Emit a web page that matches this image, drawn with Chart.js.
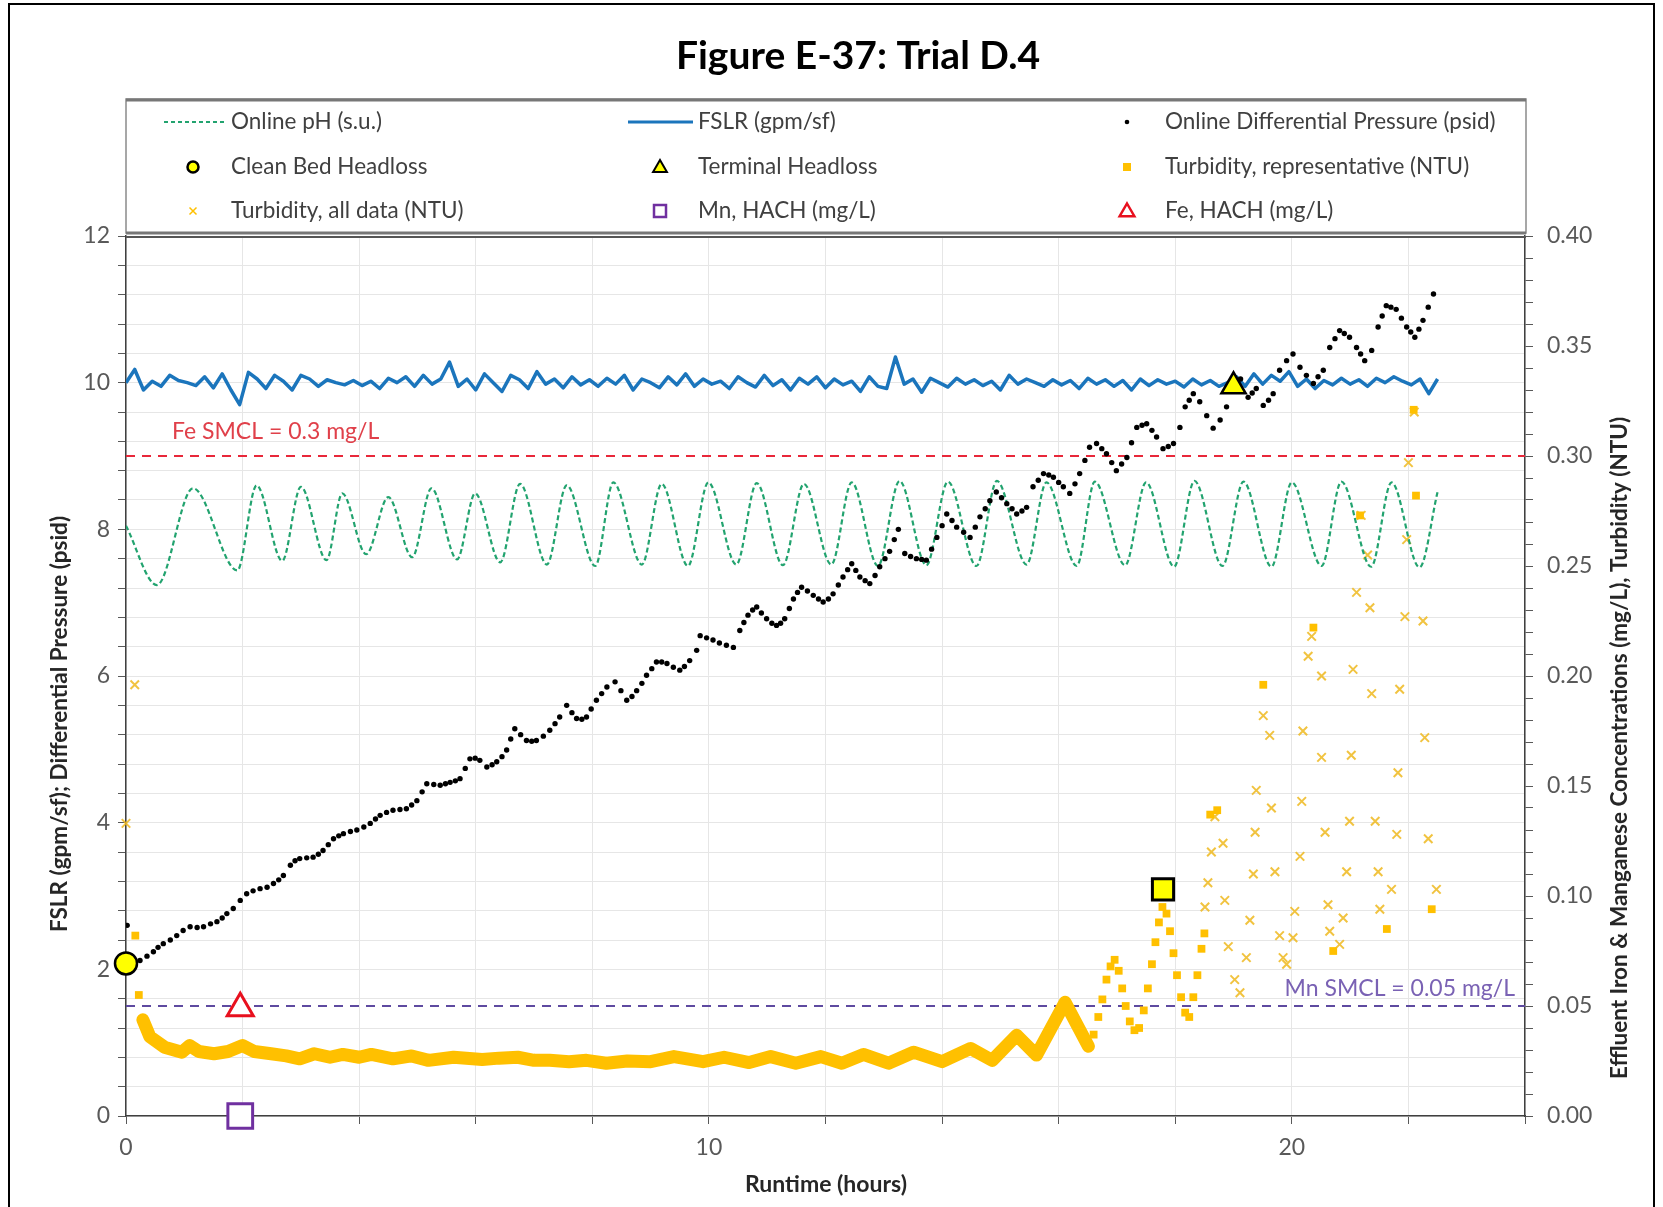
<!DOCTYPE html>
<html>
<head>
<meta charset="utf-8">
<title>Figure E-37: Trial D.4</title>
<script src="https://cdn.jsdelivr.net/npm/chart.js"></script>
<style>
  html, body { margin: 0; padding: 0; background: #fff; }
  #myChart { display: block; }
</style>
</head>
<body>
<canvas id="myChart" width="1663" height="1207"></canvas>
<script>
// values (runtime in hours)
var chartTitle = 'Figure E-37: Trial D.4';
var xTickLabels = [0, 10, 20];
var leftTickLabels = [0, 2, 4, 6, 8, 10, 12];
var rightTickLabels = ['0.00', '0.05', '0.10', '0.15', '0.20', '0.25', '0.30', '0.35', '0.40'];

var feSmcl = 0.3;   // mg/L, right axis
var mnSmcl = 0.05;  // mg/L, right axis

// online pH (s.u.), peaks and troughs of the trace
var phTime = [0, 0.53, 1.15, 1.91, 2.24, 2.68, 3.00, 3.44, 3.71, 4.12,
  4.50, 4.91, 5.24, 5.68, 5.99, 6.42, 6.76, 7.22, 7.56, 8.05,
  8.36, 8.85, 9.19, 9.64, 9.99, 10.47, 10.82, 11.27, 11.63, 12.10,
  12.45, 12.90, 13.27, 13.73, 14.10, 14.59, 14.94, 15.45, 15.79, 16.31,
  16.62, 17.14, 17.50, 17.98, 18.33, 18.81, 19.17, 19.65, 20.00, 20.51,
  20.85, 21.36, 21.71, 22.19, 22.50];
var phValue = [8.05, 7.24, 8.56, 7.44, 8.60, 7.57, 8.58, 7.58, 8.49, 7.66,
  8.44, 7.62, 8.56, 7.59, 8.49, 7.55, 8.62, 7.52, 8.60, 7.50,
  8.64, 7.52, 8.62, 7.50, 8.64, 7.52, 8.63, 7.51, 8.62, 7.52,
  8.64, 7.50, 8.66, 7.51, 8.65, 7.50, 8.66, 7.52, 8.64, 7.50,
  8.65, 7.51, 8.64, 7.49, 8.66, 7.50, 8.65, 7.49, 8.64, 7.50,
  8.65, 7.49, 8.64, 7.48, 8.51];

// FSLR (gpm/sf), one reading every 0.15 h
var fslrStep = 0.15;
var fslrValue = [
  10.00, 10.18, 9.90, 10.02, 9.95, 10.10, 10.03, 10.00, 9.96, 10.08,
  9.93, 10.12, 9.90, 9.70, 10.14, 10.05, 9.92, 10.10, 10.02, 9.90,
  10.10, 10.05, 9.95, 10.04, 10.00, 9.97, 10.03, 9.96, 10.02, 9.92,
  10.06, 10.00, 10.08, 9.95, 10.10, 9.98, 10.05, 10.28, 9.95, 10.05,
  9.90, 10.12, 10.00, 9.88, 10.10, 10.04, 9.92, 10.15, 9.98, 10.05,
  9.93, 10.08, 9.97, 10.04, 9.95, 10.06, 9.98, 10.10, 9.90, 10.05,
  10.00, 9.93, 10.08, 9.97, 10.12, 9.95, 10.05, 9.98, 10.02, 9.92,
  10.08, 10.00, 9.94, 10.10, 9.96, 10.04, 9.90, 10.06, 9.98, 10.08,
  9.93, 10.05, 9.97, 10.02, 9.88, 10.08, 9.95, 9.92, 10.35, 9.98,
  10.05, 9.87, 10.06, 10.00, 9.94, 10.06, 9.98, 10.04, 9.96, 10.02,
  9.90, 10.10, 9.98, 10.05, 10.00, 9.95, 10.04, 9.97, 10.03, 9.92,
  10.06, 9.98, 10.04, 9.95, 10.03, 9.90, 10.05, 9.96, 10.04, 9.98,
  10.02, 9.94, 10.05, 9.97, 10.03, 9.95, 10.00, 10.08, 9.95, 10.12,
  9.98, 10.10, 10.02, 10.15, 9.95, 10.05, 9.92, 10.03, 9.97, 10.06,
  9.98, 10.04, 9.95, 10.06, 10.00, 10.08, 10.02, 9.97, 10.05, 9.85,
  10.05];

// online differential pressure (psid)
var dpTime = [
  0.02, 0.05, 0.14, 0.24, 0.36, 0.47, 0.55, 0.64, 0.76, 0.87,
  0.98, 1.10, 1.22, 1.33, 1.45, 1.56, 1.65, 1.73, 1.84, 1.96,
  2.07, 2.18, 2.30, 2.42, 2.53, 2.62, 2.70, 2.82, 2.90, 2.98,
  3.10, 3.21, 3.30, 3.38, 3.47, 3.56, 3.65, 3.73, 3.85, 3.96,
  4.08, 4.19, 4.28, 4.36, 4.47, 4.58, 4.70, 4.81, 4.90, 4.99,
  5.08, 5.16, 5.28, 5.39, 5.48, 5.56, 5.65, 5.73, 5.82, 5.90,
  5.99, 6.07, 6.19, 6.28, 6.36, 6.45, 6.53, 6.60, 6.67, 6.77,
  6.87, 6.96, 7.04, 7.16, 7.27, 7.36, 7.44, 7.56, 7.65, 7.73,
  7.82, 7.90, 7.98, 8.07, 8.16, 8.25, 8.39, 8.49, 8.59, 8.68,
  8.76, 8.85, 8.93, 9.02, 9.10, 9.19, 9.28, 9.39, 9.50, 9.58,
  9.67, 9.79, 9.85, 9.96, 10.07, 10.18, 10.30, 10.42, 10.53, 10.60,
  10.67, 10.75, 10.82, 10.90, 10.99, 11.08, 11.16, 11.23, 11.30, 11.38,
  11.45, 11.52, 11.59, 11.69, 11.79, 11.88, 11.96, 12.05, 12.13, 12.22,
  12.30, 12.38, 12.45, 12.52, 12.59, 12.68, 12.76, 12.85, 12.93, 13.02,
  13.10, 13.18, 13.25, 13.36, 13.46, 13.56, 13.65, 13.73, 13.82, 13.91,
  14.00, 14.08, 14.17, 14.25, 14.37, 14.48, 14.57, 14.65, 14.74, 14.82,
  14.93, 15.02, 15.11, 15.20, 15.28, 15.37, 15.45, 15.56, 15.65, 15.74,
  15.83, 15.91, 16.00, 16.08, 16.19, 16.28, 16.36, 16.45, 16.53, 16.65,
  16.74, 16.82, 16.91, 16.99, 17.08, 17.17, 17.25, 17.34, 17.43, 17.51,
  17.60, 17.68, 17.79, 17.88, 17.97, 18.08, 18.17, 18.24, 18.31, 18.42,
  18.54, 18.65, 18.77, 18.88, 19.00, 19.12, 19.25, 19.32, 19.39, 19.51,
  19.60, 19.68, 19.79, 19.91, 20.02, 20.14, 20.25, 20.37, 20.45, 20.54,
  20.65, 20.74, 20.82, 20.90, 20.99, 21.11, 21.18, 21.25, 21.37, 21.48,
  21.55, 21.62, 21.70, 21.79, 21.88, 21.97, 22.04, 22.11, 22.18, 22.25,
  22.34, 22.43];
var dpValue = [
  2.60, 2.08, 2.10, 2.12, 2.18, 2.24, 2.30, 2.35, 2.40, 2.46,
  2.53, 2.58, 2.57, 2.58, 2.62, 2.65, 2.70, 2.76, 2.83, 2.94,
  3.03, 3.07, 3.10, 3.12, 3.17, 3.22, 3.28, 3.42, 3.48, 3.51,
  3.52, 3.53, 3.57, 3.62, 3.70, 3.78, 3.82, 3.85, 3.88, 3.90,
  3.94, 3.99, 4.05, 4.10, 4.14, 4.17, 4.18, 4.19, 4.24, 4.30,
  4.42, 4.53, 4.52, 4.51, 4.53, 4.55, 4.57, 4.60, 4.74, 4.87,
  4.88, 4.85, 4.76, 4.79, 4.83, 4.90, 4.99, 5.14, 5.28, 5.20,
  5.12, 5.11, 5.12, 5.18, 5.26, 5.35, 5.44, 5.60, 5.50, 5.42,
  5.41, 5.44, 5.55, 5.67, 5.76, 5.85, 5.92, 5.80, 5.67, 5.72,
  5.80, 5.90, 6.01, 6.10, 6.19, 6.19, 6.17, 6.12, 6.08, 6.13,
  6.21, 6.35, 6.55, 6.52, 6.49, 6.45, 6.42, 6.39, 6.62, 6.73,
  6.83, 6.90, 6.94, 6.86, 6.78, 6.72, 6.69, 6.72, 6.78, 6.92,
  7.05, 7.14, 7.21, 7.16, 7.10, 7.05, 7.01, 7.05, 7.12, 7.24,
  7.35, 7.45, 7.53, 7.44, 7.35, 7.30, 7.26, 7.37, 7.49, 7.60,
  7.70, 7.86, 8.00, 7.67, 7.63, 7.60, 7.59, 7.58, 7.73, 7.89,
  8.05, 8.21, 8.12, 8.03, 7.96, 7.89, 8.03, 8.17, 8.28, 8.39,
  8.51, 8.43, 8.35, 8.28, 8.21, 8.25, 8.30, 8.58, 8.67, 8.76,
  8.74, 8.71, 8.64, 8.58, 8.49, 8.62, 8.76, 8.94, 9.12, 9.17,
  9.10, 9.03, 8.91, 8.80, 8.89, 8.98, 9.18, 9.39, 9.42, 9.44,
  9.35, 9.26, 9.10, 9.13, 9.17, 9.39, 9.67, 9.76, 9.85, 9.74,
  9.55, 9.38, 9.49, 9.67, 9.95, 10.05, 9.80, 9.86, 9.92, 9.69,
  9.76, 9.85, 10.17, 10.30, 10.39, 10.21, 10.10, 9.99, 10.08, 10.17,
  10.48, 10.60, 10.71, 10.67, 10.62, 10.48, 10.39, 10.30, 10.44, 10.76,
  10.91, 11.05, 11.03, 11.00, 10.88, 10.76, 10.69, 10.62, 10.73, 10.85,
  11.03, 11.21];

// turbidity, representative (NTU): the dense run of squares ...
var turbBandTime = [0.29, 0.41, 0.66, 0.96, 1.09, 1.25, 1.51, 1.75, 2.00, 2.20,
  2.49, 2.75, 2.98, 3.23, 3.50, 3.72, 4.00, 4.21, 4.58, 4.90,
  5.19, 5.62, 6.11, 6.40, 6.72, 7.00, 7.27, 7.60, 7.90, 8.24,
  8.60, 9.00, 9.40, 9.90, 10.26, 10.69, 11.06, 11.49, 11.92, 12.28,
  12.65, 13.08, 13.51, 14.00, 14.49, 14.86, 15.28, 15.62, 16.11, 16.51];
var turbBandNtu = [0.0437, 0.0360, 0.0313, 0.0290, 0.0320, 0.0293, 0.0283, 0.0293, 0.0320, 0.0293,
  0.0283, 0.0273, 0.0260, 0.0283, 0.0267, 0.0280, 0.0267, 0.0280, 0.0260, 0.0273,
  0.0253, 0.0267, 0.0257, 0.0263, 0.0267, 0.0253, 0.0253, 0.0247, 0.0253, 0.0240,
  0.0250, 0.0247, 0.0270, 0.0247, 0.0267, 0.0243, 0.0270, 0.0240, 0.0270, 0.0240,
  0.0280, 0.0240, 0.0290, 0.0247, 0.0307, 0.0253, 0.0367, 0.0277, 0.0517, 0.0317];
// ... and the separate squares
var turbRepTime = [0.16, 0.22, 16.60, 16.68, 16.75, 16.82, 16.89, 16.96, 17.03, 17.09,
  17.15, 17.22, 17.30, 17.38, 17.46, 17.53, 17.60, 17.66, 17.72, 17.78,
  17.85, 17.91, 17.97, 18.03, 18.10, 18.17, 18.24, 18.31, 18.38, 18.45,
  18.50, 18.60, 18.72, 19.51, 20.37, 20.71, 21.17, 21.63, 22.09, 22.13, 22.40];
var turbRepNtu = [0.082, 0.055, 0.037, 0.045, 0.053, 0.062, 0.068, 0.071, 0.066, 0.058,
  0.050, 0.043, 0.039, 0.040, 0.048, 0.058, 0.069, 0.079, 0.088, 0.095,
  0.092, 0.084, 0.074, 0.064, 0.054, 0.047, 0.045, 0.054, 0.064, 0.076,
  0.083, 0.137, 0.139, 0.196, 0.222, 0.075, 0.273, 0.085, 0.321, 0.282, 0.094];

// turbidity, all data (NTU)
var turbAllTime = [0.00, 0.15, 18.51, 18.56, 18.62, 18.68, 18.82, 18.85, 18.91, 19.02,
  19.11, 19.22, 19.28, 19.34, 19.37, 19.39, 19.51, 19.62, 19.65, 19.71,
  19.79, 19.85, 19.91, 20.02, 20.05, 20.14, 20.17, 20.19, 20.28, 20.34,
  20.51, 20.51, 20.57, 20.62, 20.65, 20.82, 20.88, 20.94, 20.99, 21.02,
  21.05, 21.11, 21.19, 21.30, 21.34, 21.37, 21.43, 21.48, 21.51, 21.71,
  21.80, 21.82, 21.85, 21.94, 21.97, 22.00, 22.10, 22.25, 22.28, 22.34, 22.48];
var turbAllNtu = [0.133, 0.196, 0.095, 0.106, 0.120, 0.136, 0.124, 0.098, 0.077, 0.062,
  0.056, 0.072, 0.089, 0.110, 0.129, 0.148, 0.182, 0.173, 0.140, 0.111,
  0.082, 0.072, 0.069, 0.081, 0.093, 0.118, 0.143, 0.175, 0.209, 0.218,
  0.200, 0.163, 0.129, 0.096, 0.084, 0.078, 0.090, 0.111, 0.134, 0.164,
  0.203, 0.238, 0.273, 0.255, 0.231, 0.192, 0.134, 0.111, 0.094, 0.103,
  0.128, 0.156, 0.194, 0.227, 0.262, 0.297, 0.320, 0.225, 0.172, 0.126, 0.103];

// single marked points [hours, value]
var cleanBedHeadloss = [0, 2.08];      // psid
var terminalHeadloss = [19.0, 9.95];   // psid
var mnHach = [1.96, 0.0];              // mg/L
var feHach = [1.96, 0.049];            // mg/L
var turbFlag = [17.79, 0.103];         // NTU

var ctx = document.getElementById('myChart');
Chart.defaults.font.family = 'Lato';
Chart.defaults.color = '#595959';

function pairs(xs, ys) {
  return xs.map(function (x, i) { return { x: x, y: ys[i] }; });
}
function one(p) { return [{ x: p[0], y: p[1] }]; }

var fslrTime = fslrValue.map(function (v, i) { return Math.round(i * fslrStep * 100) / 100; });

var GOLD = '#ffc000';
var PH_GREEN = '#22a36f';
var FSLR_BLUE = '#1b75bc';

// fixed layout of the drawing
var frame = { left: 126, right: 1525, top: 236, bottom: 1116 };

function drawMarker(c, style, x, y, r, fill, stroke, lw) {
  c.save();
  c.beginPath();
  if (style === 'circle') {
    c.arc(x, y, r, 0, Math.PI * 2);
  } else if (style === 'rect') {
    c.rect(x - r, y - r, 2 * r, 2 * r);
  } else if (style === 'triangle') {
    c.moveTo(x, y - r);
    c.lineTo(x + r * 0.866, y + r * 0.5);
    c.lineTo(x - r * 0.866, y + r * 0.5);
    c.closePath();
  } else if (style === 'cross') {
    c.moveTo(x - r, y - r); c.lineTo(x + r, y + r);
    c.moveTo(x + r, y - r); c.lineTo(x - r, y + r);
  }
  if (fill) { c.fillStyle = fill; c.fill(); }
  if (stroke) { c.strokeStyle = stroke; c.lineWidth = lw; c.stroke(); }
  c.restore();
}

var figureDecor = {
  id: 'figureDecor',
  beforeDraw: function (chart) {
    var c = chart.ctx;
    c.save();
    c.fillStyle = '#fff';
    c.fillRect(0, 0, chart.width, chart.height);
    c.restore();
  },
  afterDraw: function (chart) {
    var c = chart.ctx;
    c.save();

    // frame round the whole figure
    c.strokeStyle = '#000';
    c.lineWidth = 2;
    c.strokeRect(9, 4, 1645, 1240);

    // title
    c.fillStyle = '#000';
    c.font = 'bold 39px Lato';
    c.textAlign = 'center';
    c.textBaseline = 'middle';
    c.fillText(chartTitle, 858, 56);

    // legend box
    c.strokeStyle = '#8a8a8a';
    c.lineWidth = 1.5;
    c.strokeRect(126, 99, 1400, 134);
    c.strokeStyle = '#777';
    c.lineWidth = 3;
    c.beginPath(); c.moveTo(126, 100); c.lineTo(1526, 100); c.stroke();
    c.beginPath(); c.moveTo(126, 233); c.lineTo(1526, 233); c.stroke();
    c.strokeStyle = '#555';
    c.lineWidth = 2;
    c.beginPath(); c.moveTo(126, 237); c.lineTo(1526, 237); c.stroke();

    var rows = [122, 167, 211];
    c.font = '22.5px Lato';
    c.textAlign = 'left';
    c.fillStyle = '#404040';

    // column 1
    c.save();
    c.strokeStyle = PH_GREEN; c.lineWidth = 2.2; c.setLineDash([4, 3]);
    c.beginPath(); c.moveTo(164, rows[0]); c.lineTo(226, rows[0]); c.stroke();
    c.restore();
    c.fillText('Online pH (s.u.)', 231, rows[0]);
    drawMarker(c, 'circle', 193, rows[1], 5.5, '#ffff00', '#000', 2.5);
    c.fillText('Clean Bed Headloss', 231, rows[1]);
    drawMarker(c, 'cross', 193, rows[2], 3.5, null, GOLD, 1.5);
    c.fillText('Turbidity, all data (NTU)', 231, rows[2]);

    // column 2
    c.save();
    c.strokeStyle = FSLR_BLUE; c.lineWidth = 3;
    c.beginPath(); c.moveTo(628, rows[0]); c.lineTo(693, rows[0]); c.stroke();
    c.restore();
    c.fillText('FSLR (gpm/sf)', 698, rows[0]);
    drawMarker(c, 'triangle', 660, rows[1] + 1, 8, '#ffff00', '#000', 2);
    c.fillText('Terminal Headloss', 698, rows[1]);
    drawMarker(c, 'rect', 660, rows[2], 6, '#fff', '#7030a0', 2.5);
    c.fillText('Mn, HACH (mg/L)', 698, rows[2]);

    // column 3
    drawMarker(c, 'circle', 1127, rows[0], 2.3, '#000', null, 0);
    c.fillText('Online Differential Pressure (psid)', 1165, rows[0]);
    drawMarker(c, 'rect', 1127, rows[1], 4, GOLD, null, 0);
    c.fillText('Turbidity, representative (NTU)', 1165, rows[1]);
    drawMarker(c, 'triangle', 1127, rows[2] + 1, 8.5, '#fff', '#e8101e', 2.5);
    c.fillText('Fe, HACH (mg/L)', 1165, rows[2]);

    // limit labels
    var y2 = chart.scales.y2;
    c.font = '23px Lato';
    c.fillStyle = '#e0404a';
    c.textAlign = 'left';
    c.fillText('Fe SMCL = 0.3 mg/L', 172, y2.getPixelForValue(feSmcl) - 24);
    c.fillStyle = '#7a62b4';
    c.textAlign = 'right';
    c.fillText('Mn SMCL = 0.05 mg/L', 1515, y2.getPixelForValue(mnSmcl) - 17);

    // axis titles
    c.fillStyle = '#262626';
    c.textAlign = 'center';
    c.font = 'bold 23px Lato';
    c.fillText('Runtime (hours)', 826, 1185);
    c.font = 'bold 22.5px Lato';
    c.save();
    c.translate(60, 724);
    c.rotate(-Math.PI / 2);
    c.fillText('FSLR (gpm/sf); Differential Pressure (psid)', 0, 0);
    c.restore();
    c.save();
    c.translate(1620, 748);
    c.rotate(-Math.PI / 2);
    c.fillText('Effluent Iron & Manganese Concentrations (mg/L), Turbidity (NTU)', 0, 0);
    c.restore();

    c.restore();
  }
};

var tickFont = { size: 23 };

var chart = new Chart(ctx, {
  type: 'scatter',
  data: {
    datasets: [
      {
        label: 'Fe SMCL', type: 'line', yAxisID: 'y2', order: 20,
        data: [{ x: 0, y: feSmcl }, { x: 24, y: feSmcl }],
        borderColor: '#e8283a', borderWidth: 2, borderDash: [9, 7], pointRadius: 0
      },
      {
        label: 'Mn SMCL', type: 'line', yAxisID: 'y2', order: 20,
        data: [{ x: 0, y: mnSmcl }, { x: 24, y: mnSmcl }],
        borderColor: '#5e4aa0', borderWidth: 2, borderDash: [9, 7], pointRadius: 0
      },
      {
        label: 'Turbidity, representative (NTU) band', type: 'line', yAxisID: 'y2', order: 16,
        data: pairs(turbBandTime, turbBandNtu),
        borderColor: GOLD, borderWidth: 13, borderJoinStyle: 'round', borderCapStyle: 'round',
        pointRadius: 0, tension: 0
      },
      {
        label: 'Turbidity, all data (NTU)', yAxisID: 'y2', order: 15, clip: false,
        data: pairs(turbAllTime, turbAllNtu),
        pointStyle: 'crossRot', pointRadius: 6,
        borderColor: 'rgba(238, 184, 30, 0.85)', borderWidth: 2, backgroundColor: 'rgba(0,0,0,0)'
      },
      {
        label: 'Online pH (s.u.)', type: 'line', yAxisID: 'y', order: 12,
        data: pairs(phTime, phValue),
        borderColor: PH_GREEN, borderWidth: 2.2, borderDash: [5, 3],
        cubicInterpolationMode: 'monotone', pointRadius: 0
      },
      {
        label: 'FSLR (gpm/sf)', type: 'line', yAxisID: 'y', order: 10,
        data: pairs(fslrTime, fslrValue),
        borderColor: FSLR_BLUE, borderWidth: 3.5, borderJoinStyle: 'round',
        pointRadius: 0, tension: 0
      },
      {
        label: 'Online Differential Pressure (psid)', yAxisID: 'y', order: 8,
        data: pairs(dpTime, dpValue),
        pointStyle: 'circle', pointRadius: 2.7, borderWidth: 0, backgroundColor: '#000'
      },
      {
        label: 'Turbidity, representative (NTU)', yAxisID: 'y2', order: 6,
        data: pairs(turbRepTime, turbRepNtu),
        pointStyle: 'rect', pointRadius: 5.5, borderWidth: 0, backgroundColor: GOLD
      },
      {
        label: 'Turbidity flag', yAxisID: 'y2', order: 4, clip: false,
        data: one(turbFlag),
        pointStyle: 'rect', pointRadius: 15, borderWidth: 3, borderColor: '#000', backgroundColor: '#ffff00'
      },
      {
        label: 'Clean Bed Headloss', yAxisID: 'y', order: 2, clip: false,
        data: one(cleanBedHeadloss),
        pointStyle: 'circle', pointRadius: 11, borderWidth: 2.5, borderColor: '#000', backgroundColor: '#ffff00'
      },
      {
        label: 'Terminal Headloss', yAxisID: 'y', order: 2, clip: false,
        data: one(terminalHeadloss),
        pointStyle: 'triangle', pointRadius: 14, borderWidth: 2.5, borderColor: '#000', backgroundColor: '#ffff00'
      },
      {
        label: 'Mn, HACH (mg/L)', yAxisID: 'y2', order: 2, clip: false,
        data: one(mnHach),
        pointStyle: 'rect', pointRadius: 17.5, borderWidth: 3, borderColor: '#7030a0', backgroundColor: '#fff'
      },
      {
        label: 'Fe, HACH (mg/L)', yAxisID: 'y2', order: 2, clip: false,
        data: one(feHach),
        pointStyle: 'triangle', pointRadius: 15, borderWidth: 3, borderColor: '#e8101e', backgroundColor: '#fff'
      }
    ]
  },
  options: {
    responsive: false,
    animation: false,
    devicePixelRatio: 1,
    events: [],
    layout: { padding: { top: frame.top, left: 0, right: 0, bottom: 0 } },
    plugins: {
      legend: { display: false },
      tooltip: { enabled: false },
      title: { display: false }
    },
    scales: {
      x: {
        type: 'linear', min: 0, max: 24,
        ticks: {
          stepSize: 2, autoSkip: false, maxRotation: 0, padding: 10,
          color: '#595959', font: tickFont,
          callback: function (v) { return xTickLabels.indexOf(v) >= 0 ? String(v) : ''; }
        },
        grid: { color: '#e6e6e6', lineWidth: 1, tickLength: 8, tickColor: '#595959', tickWidth: 1 },
        border: { color: '#404040', width: 1.5 },
        afterFit: function (s) { s.height = 1207 - frame.bottom; }
      },
      y: {
        type: 'linear', position: 'left', min: 0, max: 12,
        ticks: {
          stepSize: 0.4, autoSkip: false, padding: 8,
          color: '#595959', font: tickFont,
          callback: function (v) {
            var r = Math.round(v * 10) / 10;
            return leftTickLabels.indexOf(r) >= 0 ? String(r) : '';
          }
        },
        grid: { color: '#e6e6e6', lineWidth: 1, tickLength: 8, tickColor: '#595959', tickWidth: 1 },
        border: { color: '#404040', width: 1.5 },
        afterFit: function (s) { s.width = frame.left; }
      },
      y2: {
        type: 'linear', position: 'right', min: 0, max: 0.4,
        ticks: {
          stepSize: 0.01, autoSkip: false, padding: 14,
          color: '#595959', font: tickFont,
          callback: function (v) {
            var s = (Math.round(v * 100) / 100).toFixed(2);
            return rightTickLabels.indexOf(s) >= 0 ? s : '';
          }
        },
        grid: { drawOnChartArea: false, tickLength: 8, tickColor: '#595959', tickWidth: 1 },
        border: { color: '#404040', width: 1.5 },
        afterFit: function (s) { s.width = 1663 - frame.right; }
      }
    }
  },
  plugins: [figureDecor]
});
</script>
</body>
</html>
